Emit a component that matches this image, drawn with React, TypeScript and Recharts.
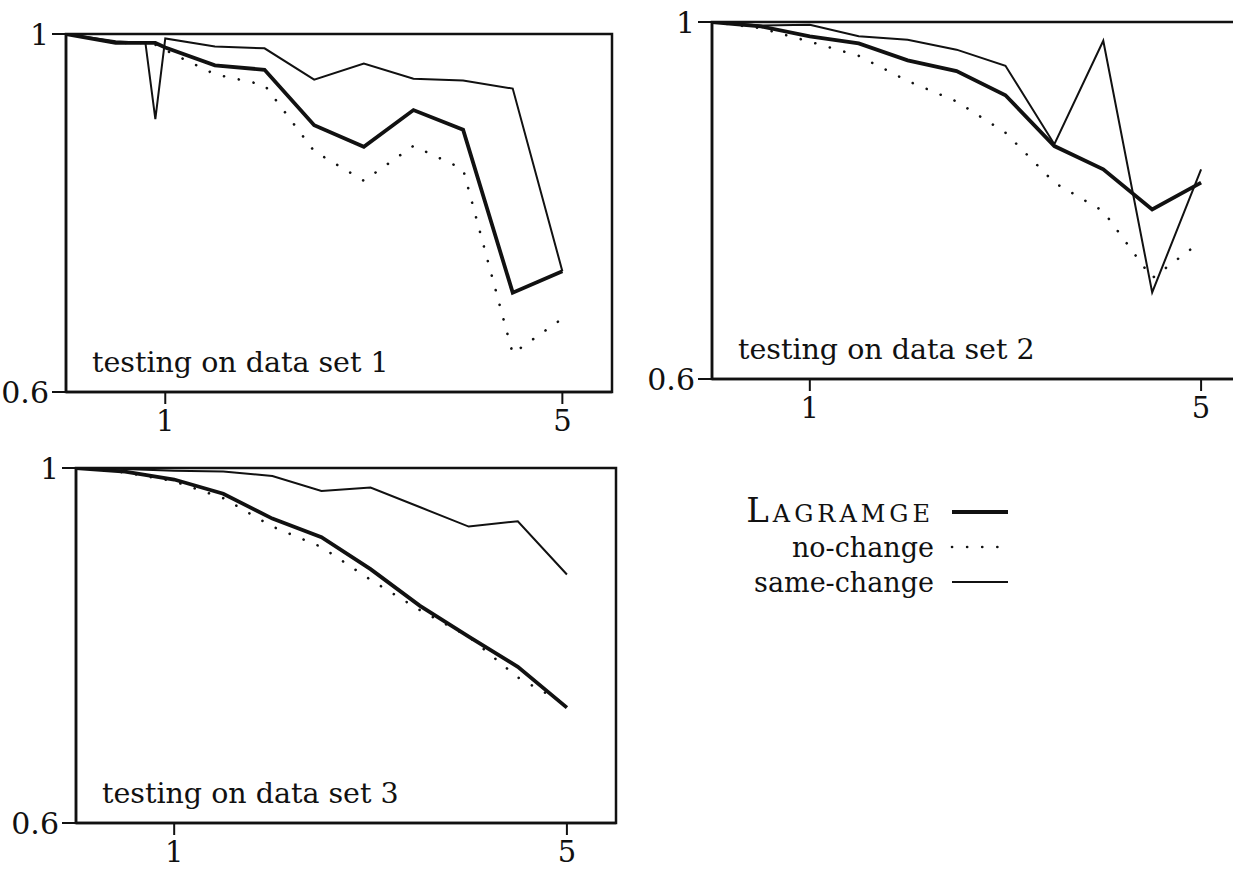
import React from 'react';
import { LineChart, Line, XAxis, YAxis, ReferenceArea, Legend } from 'recharts';

// x positions of the runs; set 1 has a few extra runs just below 1
const X_SET1 = [0, 0.5, 0.8, 0.9, 1, 1.5, 2, 2.5, 3, 3.5, 4, 4.5, 5];
const X_GRID = [0, 0.5, 1, 1.5, 2, 2.5, 3, 3.5, 4, 4.5, 5];

// testing on data set 1
const LAGRAMGE_1 = [1.0, 0.99, 0.99, 0.99, 0.985, 0.965, 0.96, 0.898, 0.874, 0.915, 0.893, 0.711, 0.735];
const NO_CHANGE_1 = [1.0, 0.99, 0.99, 0.988, 0.982, 0.955, 0.943, 0.869, 0.836, 0.875, 0.849, 0.643, 0.682];
const SAME_CHANGE_1 = [1.0, 0.992, 0.99, 0.905, 0.995, 0.986, 0.984, 0.949, 0.967, 0.95, 0.948, 0.939, 0.735];

// testing on data set 2
const LAGRAMGE_2 = [1.0, 0.995, 0.984, 0.976, 0.957, 0.945, 0.918, 0.861, 0.835, 0.79, 0.82];
const NO_CHANGE_2 = [1.0, 0.993, 0.978, 0.962, 0.934, 0.911, 0.876, 0.82, 0.788, 0.713, 0.754];
const SAME_CHANGE_2 = [1.0, 0.996, 0.997, 0.984, 0.98, 0.969, 0.951, 0.863, 0.979, 0.697, 0.835];

// testing on data set 3
const LAGRAMGE_3 = [1.0, 0.996, 0.987, 0.971, 0.943, 0.922, 0.886, 0.845, 0.81, 0.776, 0.73];
const NO_CHANGE_3 = [1.0, 0.995, 0.985, 0.966, 0.934, 0.911, 0.874, 0.84, 0.81, 0.764, 0.733];
const SAME_CHANGE_3 = [1.0, 0.999, 0.997, 0.996, 0.991, 0.974, 0.978, 0.956, 0.934, 0.94, 0.88];

const X_TICKS = [1, 5];
const Y_TICKS = [0.6, 1];
const SERIES_NAMES = ['Lagramge', 'no-change', 'same-change'];
const PANEL_TITLES = ['testing on data set 1', 'testing on data set 2', 'testing on data set 3'];

const INK = '#111';
const SERIF = 'DejaVu Serif';

const pts = (xs: number[], ys: number[]) => xs.map((x, i) => ({ x, y: ys[i] }));

// line look per series: thick, dotted, thin
const STYLES: Record<string, any> = {
  'Lagramge': { strokeWidth: 3.8 },
  'no-change': { strokeWidth: 2.6, strokeDasharray: '0.1 15', strokeLinecap: 'round' },
  'same-change': { strokeWidth: 2 },
};

const PanelTitle = ({ viewBox, text }: any) => (
  <text x={viewBox.x + 26} y={viewBox.y + viewBox.height - 20} fontFamily={SERIF} fontSize={28.5} fill={INK}>
    {text}
  </text>
);

const LegendBox = ({ payload }: any) => (
  <svg width={330} height={120}>
    {(payload || []).map((entry: any, i: number) => {
      const base = 42 + i * 35;
      const st = STYLES[entry.value] || {};
      const isLag = entry.value === 'Lagramge';
      return (
        <g key={entry.value}>
          <text
            x={234}
            y={base}
            textAnchor="end"
            fontFamily={SERIF}
            fontSize={isLag ? 34 : 27}
            fill={INK}
            style={isLag ? { fontVariant: 'small-caps', letterSpacing: 4 } : undefined}
          >
            {entry.value}
          </text>
          <line x1={252} x2={308} y1={base - 10} y2={base - 10} stroke={INK} {...st} />
        </g>
      );
    })}
  </svg>
);

type PanelProps = {
  left: number;
  top: number;
  width: number;
  height: number;
  margin: { top: number; right: number; bottom: number; left: number };
  xs: number[];
  lag: number[];
  noc: number[];
  same: number[];
  title: string;
  legend?: boolean;
};

const Panel = ({ left, top, width, height, margin, xs, lag, noc, same, title, legend }: PanelProps) => {
  const series = [lag, noc, same];
  return (
    <div style={{ position: 'absolute', left, top, width, height }}>
      <LineChart width={width} height={height} margin={margin}>
        <XAxis
          type="number"
          dataKey="x"
          domain={[0, 5.5]}
          ticks={X_TICKS}
          allowDataOverflow
          interval={0}
          height={40}
          tickSize={12}
          tickMargin={6}
          axisLine={{ stroke: INK, strokeWidth: 2.5 }}
          tickLine={{ stroke: INK, strokeWidth: 2 }}
          tick={{ fontFamily: SERIF, fontSize: 29, fill: INK }}
        />
        <YAxis
          type="number"
          domain={[0.6, 1]}
          ticks={Y_TICKS}
          allowDataOverflow
          interval={0}
          width={60}
          tickSize={14}
          tickMargin={3}
          tickFormatter={(v: number) => String(v)}
          axisLine={{ stroke: INK, strokeWidth: 2.5 }}
          tickLine={{ stroke: INK, strokeWidth: 2 }}
          tick={{ fontFamily: SERIF, fontSize: 30, fill: INK }}
        />
        <ReferenceArea
          x1={0}
          x2={5.5}
          y1={0.6}
          y2={1}
          fill="none"
          stroke={INK}
          strokeWidth={2.5}
          ifOverflow="visible"
          label={<PanelTitle text={title} />}
        />
        {SERIES_NAMES.map((name, i) => (
          <Line
            key={name}
            name={name}
            data={pts(xs, series[i])}
            dataKey="y"
            type="linear"
            stroke={INK}
            {...STYLES[name]}
            dot={false}
            activeDot={false}
            isAnimationActive={false}
          />
        ))}
        {legend && (
          <Legend
            layout="horizontal"
            verticalAlign="middle"
            align="center"
            wrapperStyle={{ left: 700, top: 40, width: 330, height: 120 }}
            content={<LegendBox />}
          />
        )}
      </LineChart>
    </div>
  );
};

export default function App() {
  return (
    <div style={{ position: 'absolute', left: 0, top: 0, width: 1233, height: 870, overflow: 'hidden', background: '#fff' }}>
      <Panel
        left={0}
        top={0}
        width={620}
        height={440}
        margin={{ top: 34, right: 8, bottom: 8, left: 6 }}
        xs={X_SET1}
        lag={LAGRAMGE_1}
        noc={NO_CHANGE_1}
        same={SAME_CHANGE_1}
        title={PANEL_TITLES[0]}
      />
      <Panel
        left={620}
        top={0}
        width={640}
        height={440}
        margin={{ top: 22, right: 10, bottom: 21, left: 32 }}
        xs={X_GRID}
        lag={LAGRAMGE_2}
        noc={NO_CHANGE_2}
        same={SAME_CHANGE_2}
        title={PANEL_TITLES[1]}
      />
      <Panel
        left={0}
        top={440}
        width={1233}
        height={430}
        margin={{ top: 28, right: 617, bottom: 7, left: 16 }}
        xs={X_GRID}
        lag={LAGRAMGE_3}
        noc={NO_CHANGE_3}
        same={SAME_CHANGE_3}
        title={PANEL_TITLES[2]}
        legend
      />
    </div>
  );
}
